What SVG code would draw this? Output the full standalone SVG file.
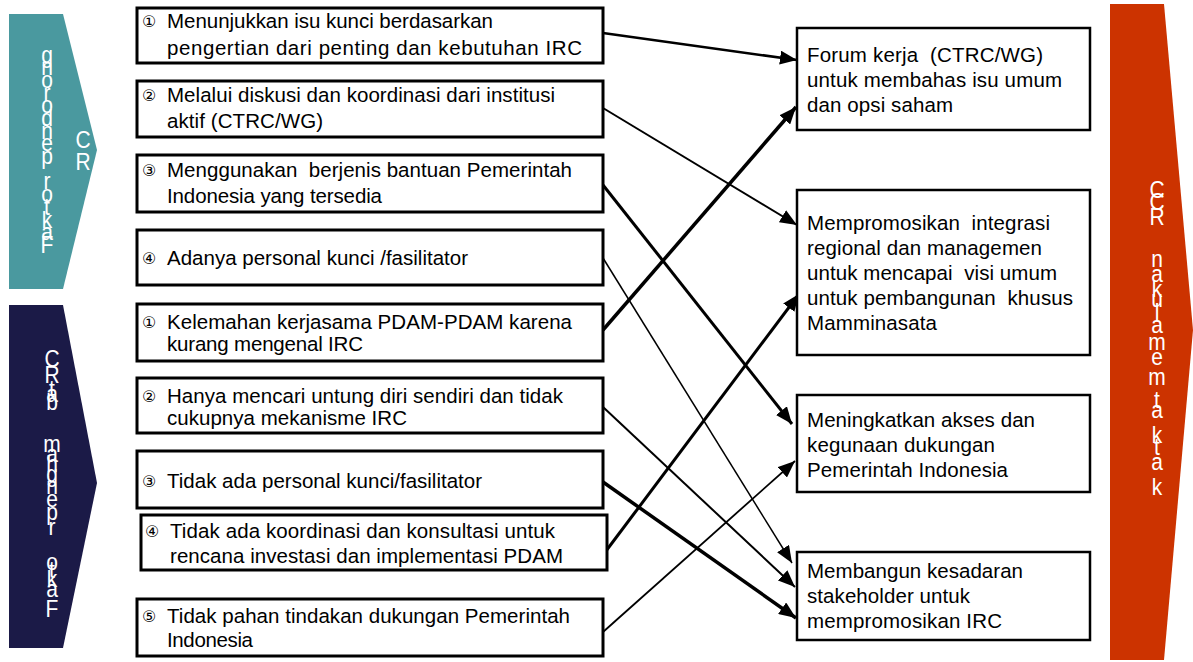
<svg xmlns="http://www.w3.org/2000/svg" width="1193" height="662" viewBox="0 0 1193 662">
  <style>
    .box { fill: #ffffff; stroke: #000000; stroke-width: 3; }
    .rbox { fill: #ffffff; stroke: #000000; stroke-width: 2.5; }
    .t { font-family: "Liberation Sans", Arial, sans-serif; font-size: 20.5px; fill: #000000; white-space: pre; }
    .num { font-family: "DejaVu Sans", "Liberation Sans", sans-serif; font-size: 16px; fill: #000000; }
    .v { font-family: "Liberation Sans", Arial, sans-serif; font-size: 21px; fill: #ffffff; text-anchor: middle; }
    .c { fill: none; stroke: #000000; marker-end: url(#ah); }
  </style>
  <defs>
    <marker id="ah" markerUnits="userSpaceOnUse" markerWidth="18" markerHeight="14" refX="17" refY="7" orient="auto">
      <path d="M0,0 L17,7 L0,14 z" fill="#000000"/>
    </marker>
  </defs>

  <!-- side banners; stacked letters are stretched vertically by the text scale -->
  <g id="banner-driver">
    <polygon points="9,14 63,14 97,150 63,289 9,289" fill="#4A999F"/>
    <text class="v" transform="scale(1,1.18)"><tspan x="47" y="53.1">g</tspan><tspan x="47" y="63.8">n</tspan><tspan x="47" y="74.6">o</tspan><tspan x="47" y="85.3">r</tspan><tspan x="47" y="96.1">o</tspan><tspan x="47" y="106.9">d</tspan><tspan x="47" y="117.5">n</tspan><tspan x="47" y="128.3">e</tspan><tspan x="47" y="139.1">p</tspan><tspan x="47" y="160.6">r</tspan><tspan x="47" y="171.4">o</tspan><tspan x="47" y="182.1">t</tspan><tspan x="47" y="192.9">k</tspan><tspan x="47" y="203.6">a</tspan><tspan x="47" y="214.4">F</tspan></text>
    <text class="v" transform="scale(1,1.18)"><tspan x="83" y="125.4">C</tspan><tspan x="83" y="144.1">R</tspan></text>
  </g>

  <g id="banner-barrier">
    <polygon points="9,305 63,305 97,483 63,648 9,648" fill="#1B1A47"/>
    <text class="v" transform="scale(1,1.18)"><tspan x="52" y="311">C</tspan><tspan x="52" y="324.6">R</tspan><tspan x="52" y="336.4">t</tspan><tspan x="52" y="340.7">a</tspan><tspan x="52" y="347.5">b</tspan><tspan x="52" y="383.1">m</tspan><tspan x="52" y="391.5">a</tspan><tspan x="52" y="400">h</tspan><tspan x="52" y="408.5">g</tspan><tspan x="52" y="418.6">n</tspan><tspan x="52" y="429.7">e</tspan><tspan x="52" y="440.7">p</tspan><tspan x="52" y="453.4">r</tspan><tspan x="52" y="483.1">o</tspan><tspan x="52" y="489.8">t</tspan><tspan x="52" y="497.5">k</tspan><tspan x="52" y="505.9">a</tspan><tspan x="52" y="522.9">F</tspan></text>
  </g>

  <g id="banner-result">
    <polygon points="1110,4 1164,4 1193,330 1164,660 1110,660" fill="#CC3300"/>
    <text class="v" transform="scale(1,1.18)"><tspan x="1157" y="167.8">C</tspan><tspan x="1157" y="178">C</tspan><tspan x="1157" y="190.7">R</tspan><tspan x="1157" y="226.3">n</tspan><tspan x="1157" y="239">a</tspan><tspan x="1157" y="251.7">k</tspan><tspan x="1157" y="260.2">u</tspan><tspan x="1157" y="271.2">l</tspan><tspan x="1157" y="282.2">a</tspan><tspan x="1157" y="296.6">m</tspan><tspan x="1157" y="309.3">e</tspan><tspan x="1157" y="326.3">m</tspan><tspan x="1157" y="345.8">t</tspan><tspan x="1157" y="354.2">a</tspan><tspan x="1157" y="375.4">k</tspan><tspan x="1157" y="385.6">t</tspan><tspan x="1157" y="398.3">a</tspan><tspan x="1157" y="419.5">k</tspan></text>
  </g>

  <!-- connectors -->
  <g id="connectors">
    <line class="c" x1="603" y1="33" x2="797" y2="60" stroke-width="2.5"/>
    <line class="c" x1="603" y1="108" x2="797" y2="225" stroke-width="2"/>
    <line class="c" x1="603" y1="185" x2="792" y2="424" stroke-width="3"/>
    <line class="c" x1="603" y1="258" x2="792" y2="563" stroke-width="1.5"/>
    <line class="c" x1="603" y1="330" x2="796" y2="107" stroke-width="3.5"/>
    <line class="c" x1="603" y1="407" x2="795" y2="587" stroke-width="2"/>
    <line class="c" x1="603" y1="482" x2="796" y2="618" stroke-width="3.5"/>
    <line class="c" x1="606" y1="551" x2="799" y2="294" stroke-width="3"/>
    <line class="c" x1="603" y1="632" x2="795" y2="461" stroke-width="1.8"/>
  </g>

  <!-- left column: drivers -->
  <g id="d1">
    <rect class="box" x="137" y="8" width="466" height="55"/>
    <text class="num" x="142" y="27">①</text>
    <text class="t" x="167" y="28" textLength="326">Menunjukkan isu kunci berdasarkan</text>
    <text class="t" x="167" y="55" textLength="415">pengertian dari penting dan kebutuhan IRC</text>
  </g>
  <g id="d2">
    <rect class="box" x="137" y="81" width="466" height="56"/>
    <text class="num" x="142" y="101">②</text>
    <text class="t" x="167" y="102" textLength="388">Melalui diskusi dan koordinasi dari institusi</text>
    <text class="t" x="167" y="128" textLength="156">aktif (CTRC/WG)</text>
  </g>
  <g id="d3">
    <rect class="box" x="137" y="155" width="466" height="57"/>
    <text class="num" x="142" y="176">③</text>
    <text class="t" x="167" y="177" textLength="405">Menggunakan  berjenis bantuan Pemerintah</text>
    <text class="t" x="167" y="203" textLength="215">Indonesia yang tersedia</text>
  </g>
  <g id="d4">
    <rect class="box" x="137" y="230" width="466" height="55"/>
    <text class="num" x="142" y="264">④</text>
    <text class="t" x="167" y="265" textLength="301">Adanya personal kunci /fasilitator</text>
  </g>

  <!-- left column: barriers -->
  <g id="b1">
    <rect class="box" x="137" y="304" width="466" height="57"/>
    <text class="num" x="142" y="328">①</text>
    <text class="t" x="167" y="329" textLength="405">Kelemahan kerjasama PDAM-PDAM karena</text>
    <text class="t" x="167" y="351" textLength="196">kurang mengenal IRC</text>
  </g>
  <g id="b2">
    <rect class="box" x="137" y="378" width="466" height="55"/>
    <text class="num" x="142" y="402">②</text>
    <text class="t" x="167" y="403" textLength="396">Hanya mencari untung diri sendiri dan tidak</text>
    <text class="t" x="167" y="425" textLength="240">cukupnya mekanisme IRC</text>
  </g>
  <g id="b3">
    <rect class="box" x="137" y="451" width="466" height="57"/>
    <text class="num" x="142" y="487">③</text>
    <text class="t" x="167" y="488" textLength="315">Tidak ada personal kunci/fasilitator</text>
  </g>
  <g id="b4">
    <rect class="box" x="141" y="515" width="466" height="55"/>
    <text class="num" x="145" y="537">④</text>
    <text class="t" x="170" y="538" textLength="385">Tidak ada koordinasi dan konsultasi untuk</text>
    <text class="t" x="170" y="563" textLength="393">rencana investasi dan implementasi PDAM</text>
  </g>
  <g id="b5">
    <rect class="box" x="137" y="599" width="466" height="57"/>
    <text class="num" x="142" y="622">⑤</text>
    <text class="t" x="167" y="623" textLength="403">Tidak pahan tindakan dukungan Pemerintah</text>
    <text class="t" x="167" y="647" textLength="86">Indonesia</text>
  </g>

  <!-- right column: outcomes -->
  <g id="o1">
    <rect class="rbox" x="797" y="28" width="293" height="102"/>
    <text class="t" x="807" y="62" textLength="236">Forum kerja  (CTRC/WG)</text>
    <text class="t" x="807" y="87" textLength="255">untuk membahas isu umum</text>
    <text class="t" x="807" y="112" textLength="146">dan opsi saham</text>
  </g>
  <g id="o2">
    <rect class="rbox" x="797" y="190" width="293" height="165"/>
    <text class="t" x="807" y="230" textLength="243">Mempromosikan  integrasi</text>
    <text class="t" x="807" y="255" textLength="235">regional dan managemen</text>
    <text class="t" x="807" y="280" textLength="250">untuk mencapai  visi umum</text>
    <text class="t" x="807" y="305" textLength="266">untuk pembangunan  khusus</text>
    <text class="t" x="807" y="330" textLength="130">Mamminasata</text>
  </g>
  <g id="o3">
    <rect class="rbox" x="797" y="395" width="293" height="97"/>
    <text class="t" x="807" y="427" textLength="228">Meningkatkan akses dan</text>
    <text class="t" x="807" y="452" textLength="188">kegunaan dukungan</text>
    <text class="t" x="807" y="477" textLength="201">Pemerintah Indonesia</text>
  </g>
  <g id="o4">
    <rect class="rbox" x="797" y="552" width="293" height="88"/>
    <text class="t" x="807" y="578" textLength="216">Membangun kesadaran</text>
    <text class="t" x="807" y="603" textLength="163">stakeholder untuk</text>
    <text class="t" x="807" y="628" textLength="195">mempromosikan IRC</text>
  </g>
</svg>
